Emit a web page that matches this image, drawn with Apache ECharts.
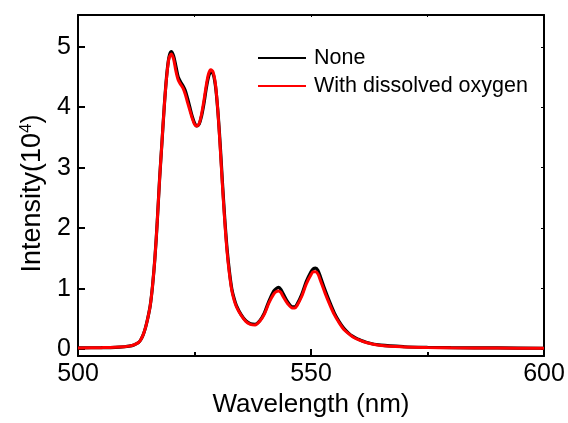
<!DOCTYPE html>
<html>
<head>
<meta charset="utf-8">
<script src="https://cdn.jsdelivr.net/npm/echarts@6/dist/echarts.min.js"></script>
<style>
  html, body { margin: 0; padding: 0; background: #fff; }
  #chart { width: 568px; height: 423px; }
</style>
</head>
<body>
<div id="chart"></div>
<script>
// wavelength (nm)
const wavelength = [
  500, 505, 508, 510, 511, 512, 513, 513.5, 514, 514.5, 515, 515.5, 516, 516.5, 517, 517.5,
  518, 518.5, 519, 519.5, 520, 520.5, 521, 521.5, 522, 522.5, 523, 523.5, 524, 524.5, 525,
  525.5, 526, 526.5, 527, 527.5, 528, 528.5, 529, 529.5, 530, 530.5, 531, 531.5, 532, 532.5,
  533, 533.5, 534, 535, 536, 537, 538, 539, 540, 541, 542, 542.5, 543, 543.5, 544, 545, 546,
  546.5, 547, 548, 549, 550, 550.5, 551, 551.5, 552, 553, 554, 555, 556, 557, 558, 559, 560,
  562, 565, 570, 575, 580, 590, 600
];
// intensity (10^4), no oxygen
const noneValues = [
  0.02, 0.025, 0.03, 0.04, 0.05, 0.07, 0.11, 0.16, 0.24, 0.36, 0.52, 0.72, 1.05, 1.5, 2.1, 2.8,
  3.4, 4.0, 4.5, 4.82, 4.92, 4.85, 4.68, 4.5, 4.42, 4.36, 4.28, 4.15, 4.0, 3.85, 3.74,
  3.69, 3.72, 3.85, 4.05, 4.3, 4.5, 4.58, 4.55, 4.35, 3.95, 3.4, 2.75, 2.15, 1.65, 1.28,
  1.0, 0.84, 0.72, 0.57, 0.47, 0.42, 0.41, 0.47, 0.6, 0.8, 0.96, 1.0, 1.02, 0.99, 0.92, 0.78, 0.7,
  0.7, 0.74, 0.9, 1.12, 1.28, 1.33, 1.34, 1.3, 1.2, 0.98, 0.78, 0.6, 0.46, 0.35, 0.27, 0.21, 0.17,
  0.11, 0.065, 0.04, 0.03, 0.025, 0.02, 0.015
];
// intensity (10^4), with dissolved oxygen
const oxygenValues = [
  0.02, 0.025, 0.03, 0.04, 0.05, 0.07, 0.11, 0.16, 0.24, 0.36, 0.52, 0.72, 1.05, 1.5, 2.1, 2.8,
  3.4, 4.0, 4.48, 4.8, 4.88, 4.8, 4.6, 4.45, 4.38, 4.32, 4.22, 4.08, 3.95, 3.82, 3.72,
  3.69, 3.73, 3.88, 4.1, 4.35, 4.55, 4.62, 4.58, 4.38, 3.95, 3.35, 2.7, 2.1, 1.6, 1.24,
  0.97, 0.81, 0.7, 0.56, 0.46, 0.41, 0.4, 0.46, 0.58, 0.77, 0.91, 0.95, 0.96, 0.94, 0.87, 0.75, 0.68,
  0.68, 0.72, 0.87, 1.08, 1.23, 1.28, 1.28, 1.24, 1.14, 0.93, 0.74, 0.57, 0.44, 0.33, 0.26, 0.2, 0.16,
  0.105, 0.06, 0.037, 0.028, 0.023, 0.018, 0.013
];
const yTicks = [0, 1, 2, 3, 4, 5];

const chart = echarts.init(document.getElementById("chart"));
const font = "Liberation Sans, Arial, sans-serif";

const option = {
  animation: false,
  grid: { left: 78, right: 24, top: 15, bottom: 64 },
  legend: {
    left: 253,
    top: 42,
    orient: "vertical",
    icon: "rect",
    itemWidth: 48,
    itemHeight: 2,
    itemGap: 6,
    textStyle: { fontFamily: font, fontSize: 21.5, color: "#000", padding: [0, 0, 0, 3] },
    data: ["None", "With dissolved oxygen"],
  },
  xAxis: [
    {
      type: "value",
      min: 500,
      max: 600,
      interval: 50,
      name: "Wavelength (nm)",
      nameLocation: "middle",
      nameGap: 35,
      nameTextStyle: { fontFamily: font, fontSize: 26, color: "#000" },
      axisLine: { onZero: false, lineStyle: { color: "#000", width: 2 } },
      axisTick: { inside: true, length: 7, lineStyle: { color: "#000", width: 2 } },
      minorTick: { show: true, splitNumber: 2, length: 4, lineStyle: { color: "#000", width: 2 } },
      axisLabel: { fontFamily: font, fontSize: 25, color: "#000", margin: 6 },
      splitLine: { show: false },
    },
    {
      type: "value",
      position: "top",
      min: 500,
      max: 600,
      interval: 25,
      axisLine: { onZero: false, lineStyle: { color: "#000", width: 2 } },
      axisTick: { inside: true, length: 2, lineStyle: { color: "#000", width: 1 } },
      axisLabel: { show: false },
      splitLine: { show: false },
    },
  ],
  yAxis: [
    {
      type: "value",
      min: -0.115,
      max: 5.525,
      name: "Intensity(10{sup|4})",
      nameLocation: "middle",
      nameGap: 31,
      nameTextStyle: {
        fontFamily: font,
        fontSize: 27,
        color: "#000",
        padding: [0, 16, 0, 0],
        rich: { sup: { fontFamily: font, fontSize: 17, color: "#000", verticalAlign: "top", padding: [0, 0, 12, 0] } },
      },
      axisLine: { onZero: false, lineStyle: { color: "#000", width: 2 } },
      axisTick: { inside: true, length: 7, customValues: yTicks, lineStyle: { color: "#000", width: 2 } },
      axisLabel: { fontFamily: font, fontSize: 25, color: "#000", margin: 7, customValues: yTicks },
      splitLine: { show: false },
    },
    {
      type: "value",
      position: "right",
      min: -0.115,
      max: 5.525,
      axisLine: { onZero: false, lineStyle: { color: "#000", width: 2 } },
      axisTick: { inside: true, length: 3, customValues: yTicks, lineStyle: { color: "#000", width: 1 } },
      axisLabel: { show: false },
      splitLine: { show: false },
    },
  ],
  series: [
    {
      name: "None",
      type: "line",
      smooth: 0.3,
      symbol: "none",
      color: "#000",
      lineStyle: { width: 3.2, color: "#000" },
      data: wavelength.map((w, i) => [w, noneValues[i]]),
    },
    {
      name: "With dissolved oxygen",
      type: "line",
      smooth: 0.3,
      symbol: "none",
      color: "#ff0000",
      lineStyle: { width: 3, color: "#ff0000" },
      data: wavelength.map((w, i) => [w, oxygenValues[i]]),
    },
  ],
};

chart.setOption(option);
</script>
</body>
</html>
